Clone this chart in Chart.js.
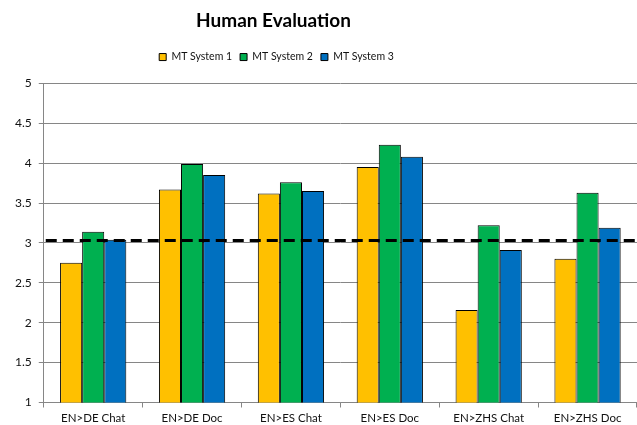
<!DOCTYPE html>
<html>
<head>
<meta charset="utf-8">
<script src="https://cdn.jsdelivr.net/npm/chart.js@4/dist/chart.umd.min.js"></script>
<style>
  html, body { margin: 0; padding: 0; background: #fff; }
  #wrap { width: 637px; height: 425px; }
</style>
</head>
<body>
<div id="wrap"><canvas id="evalChart"></canvas></div>
<script>
// Human evaluation scores per language pair / content type
const categories = ['EN>DE Chat', 'EN>DE Doc', 'EN>ES Chat', 'EN>ES Doc', 'EN>ZHS Chat', 'EN>ZHS Doc'];
const system1 = [2.75, 3.67, 3.62, 3.95, 2.16, 2.80];
const system2 = [3.14, 3.99, 3.76, 4.23, 3.22, 3.63];
const system3 = [3.04, 3.85, 3.65, 4.08, 2.91, 3.19];
const baseline = 3.03;

// dashed reference line across the plot
const baselinePlugin = {
    id: 'baseline',
    afterDatasetsDraw(chart) {
        const { ctx, chartArea, scales } = chart;
        const y = scales.y.getPixelForValue(baseline);
        ctx.save();
        ctx.strokeStyle = '#000';
        ctx.lineWidth = 3;
        ctx.setLineDash([11, 6]);
        ctx.beginPath();
        ctx.moveTo(chartArea.left + 2, y);
        ctx.lineTo(chartArea.right, y);
        ctx.stroke();
        ctx.restore();
    }
};

// extra room under the legend, and title + legend centred further left
const headerLayout = {
    id: 'headerLayout',
    beforeInit(chart) {
        const fit = chart.legend.fit;
        chart.legend.fit = function () {
            fit.bind(chart.legend)();
            this.height += 11;
        };
    },
    afterLayout(chart) {
        chart.titleBlock.right -= 98;
        chart.legend.right -= 92;
    }
};

const font = "Lato, 'Open Sans', sans-serif";

new Chart(document.getElementById('evalChart'), {
    type: 'bar',
    data: {
        labels: categories,
        datasets: [
            { label: 'MT System 1', data: system1, backgroundColor: '#FFC000', borderColor: '#000' },
            { label: 'MT System 2', data: system2, backgroundColor: '#00B050', borderColor: '#000' },
            { label: 'MT System 3', data: system3, backgroundColor: '#0070C0', borderColor: '#000' }
        ].map(ds => Object.assign(ds, {
            borderWidth: 1,
            borderSkipped: false,
            categoryPercentage: 0.67,
            barPercentage: 1.0
        }))
    },
    options: {
        responsive: true,
        maintainAspectRatio: false,
        animation: false,
        layout: { padding: { left: 8, right: 0, top: 4, bottom: 0 } },
        plugins: {
            title: {
                display: true,
                text: 'Human Evaluation',
                color: '#000',
                font: { family: font, size: 19, weight: 'bold' },
                padding: { top: 5, bottom: 12 }
            },
            legend: {
                labels: {
                    color: '#111',
                    font: { family: font, size: 10.5 },
                    boxWidth: 7,
                    boxHeight: 7,
                    padding: 8
                }
            },
            tooltip: { enabled: false }
        },
        scales: {
            x: {
                grid: {
                    display: true,
                    drawOnChartArea: false,
                    drawTicks: true,
                    tickLength: 5,
                    offset: true,
                    color: '#868686'
                },
                border: { color: '#868686' },
                ticks: { color: '#111', font: { family: font, size: 11.5, lineHeight: 1 }, padding: 5 },
                afterFit: scale => { scale.height -= 4; }
            },
            y: {
                min: 1,
                max: 5,
                ticks: {
                    stepSize: 0.5,
                    color: '#111',
                    font: { family: font, size: 12 },
                    padding: 7,
                    callback: v => String(v)
                },
                grid: { color: '#868686', tickLength: 5 },
                border: { color: '#868686' }
            }
        }
    },
    plugins: [baselinePlugin, headerLayout]
});
</script>
</body>
</html>
